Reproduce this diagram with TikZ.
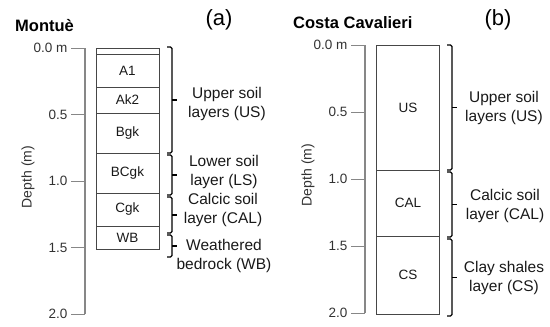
\documentclass[tikz,border=0pt]{standalone}
\usepackage{fontspec}
\setmainfont{Liberation Sans}
\usepackage{xcolor}
\usetikzlibrary{positioning}
\definecolor{AxisGray}{RGB}{135,135,135}
\definecolor{ColLine}{RGB}{70,70,70}
\definecolor{TickText}{RGB}{50,50,50}
\definecolor{LblText}{RGB}{25,25,25}
% square brace: x, top, bottom
\newcommand{\soilbrace}[3]{%
  \draw[brc] (#1-5,#2) -- (#1,#2) -- (#1,#3) -- (#1-5,#3);
  \draw[brc] (#1,{(#2+#3)/2}) -- ++(5,0);}

\begin{document}
\begin{tikzpicture}[
x=1pt,y=-1pt,
layer/.style={draw=ColLine,line width=0.9pt,minimum width=63pt,inner sep=0pt,outer sep=0pt,font=\fontsize{13.5}{15}\selectfont,text=LblText},
axis/.style={AxisGray,line width=1.4pt},
tick/.style={AxisGray,line width=1pt},
ticklbl/.style={font=\fontsize{13.5}{15}\selectfont,text=TickText,inner sep=3pt},
brc/.style={line width=1.4pt,black,rounded corners=1.5pt},
lbl/.style={font=\fontsize{15.5}{18.5}\selectfont,align=center,text=LblText,inner sep=0pt},
ttl/.style={font=\fontsize{16.5}{18}\selectfont\bfseries,anchor=west,inner sep=0pt},
pnl/.style={font=\fontsize{22}{24}\selectfont,inner sep=0pt}
]
\useasboundingbox (0,0) rectangle (550,327);

% panel (a)
\node[ttl] (titlea) at (15,26) {Montuè};
\node[pnl] (pnla) at (219,20) {(a)};
\draw[axis] (85,48) -- (85,314);
\foreach \d/\t [count=\i] in {0/0.0 m,0.5/0.5,1/1.0,1.5/1.5,2/2.0}
  \draw[tick] (85,{48+133*\d}) -- ++(-14,0) node[left,ticklbl] (ta\i) {\t};
\node[rotate=90,font=\fontsize{14}{16}\selectfont,text=TickText] (deptha) at (28,177) {Depth (m)};

\node[layer,minimum height=6pt,anchor=north] (top) at (127.5,48) {};
\node[layer,minimum height=33pt,below=0pt of top] (A1) {A1};
\node[layer,minimum height=26pt,below=0pt of A1] (Ak2) {Ak2};
\node[layer,minimum height=40pt,below=0pt of Ak2] (Bgk) {Bgk};
\node[layer,minimum height=40pt,below=0pt of Bgk] (BCgk) {BCgk};
\node[layer,minimum height=33pt,below=0pt of BCgk] (Cgk) {Cgk};
\node[layer,minimum height=23pt,below=0pt of Cgk] (WB) {WB};

\soilbrace{172}{47}{153}
\soilbrace{172}{155}{195}
\soilbrace{172}{197}{233}
\soilbrace{172}{235}{257}
\node[lbl] (usa) at (227,104) {Upper soil\\layers (US)};
\node[lbl] (lsa) at (224,172) {Lower soil\\layer (LS)};
\node[lbl] (cala) at (223,210) {Calcic soil\\layer (CAL)};
\node[lbl] (wba) at (224,256) {Weathered\\bedrock (WB)};

% panel (b)
\node[ttl] (titleb) at (293,23) {Costa Cavalieri};
\node[pnl] (pnlb) at (498,20) {(b)};
\draw[axis] (365,45) -- (365,313);
\foreach \d/\t [count=\i] in {0/0.0 m,0.5/0.5,1/1.0,1.5/1.5,2/2.0}
  \draw[tick] (365,{45+134*\d}) -- ++(-14,0) node[left,ticklbl] (tb\i) {\t};
\node[rotate=90,font=\fontsize{14}{16}\selectfont,text=TickText] (depthb) at (308,175) {Depth (m)};

\node[layer,minimum height=125pt,anchor=north] (US) at (408,45) {US};
\node[layer,minimum height=66pt,below=0pt of US] (CAL) {CAL};
\node[layer,minimum height=78pt,below=0pt of CAL] (CS) {CS};

\soilbrace{452}{45}{170}
\soilbrace{452}{172}{237}
\soilbrace{452}{239}{316}
\node[lbl] (usb) at (504,108) {Upper soil\\layers (US)};
\node[lbl] (calb) at (505,206) {Calcic soil\\layer (CAL)};
\node[lbl] (csb) at (504,278) {Clay shales\\layer (CS)};
\end{tikzpicture}
\end{document}
